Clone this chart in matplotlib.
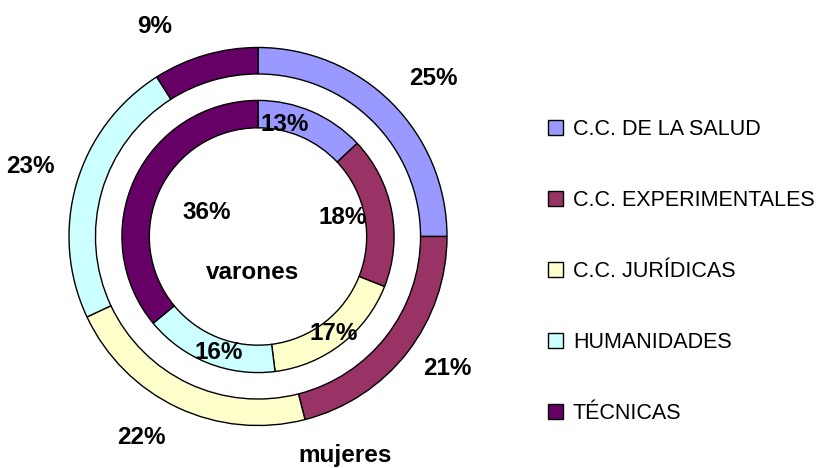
import matplotlib
matplotlib.use("Agg")
import matplotlib.pyplot as plt
import numpy as np

categories = ["C.C. DE LA SALUD", "C.C. EXPERIMENTALES", "C.C. JURÍDICAS", "HUMANIDADES", "TÉCNICAS"]
mujeres = [25, 21, 22, 23, 9]
varones = [13, 18, 17, 16, 36]
colors = ["#9999FF", "#993366", "#FFFFCC", "#CCFFFF", "#660066"]

# label placement (radius, angle offset in degrees) relative to each wedge mid-angle
outer_label_pos = [(1.25, -3), (1.22, 3), (1.23, -5), (1.26, -1), (1.24, 10)]
inner_label_pos = [(0.61, 10), (0.46, 2), (0.65, 0), (0.65, 3), (0.30, 0)]

plt.rcParams['font.family'] = ['Liberation Sans', 'DejaVu Sans']

W, H = 831, 468
fig = plt.figure(figsize=(W / 100, H / 100), dpi=100)
cx, cy, R = 258, 236.5, 189
K = 1.3 * R
ax = fig.add_axes([(cx - K) / W, (H - cy - K) / H, 2 * K / W, 2 * K / H])

wedge_kw = dict(edgecolor="black", linewidth=1.0)
w_out, _ = ax.pie(mujeres, radius=1.0, colors=colors, startangle=90, counterclock=False,
                  wedgeprops=dict(width=0.14, **wedge_kw), frame=True)
w_in, _ = ax.pie(varones, radius=0.72, colors=colors, startangle=90, counterclock=False,
                 wedgeprops=dict(width=0.145, **wedge_kw), frame=True)
ax.set_xlim(-1.3, 1.3)
ax.set_ylim(-1.3, 1.3)
ax.axis("off")

def put_labels(wedges, values, pos):
    for w, v, (r, off) in zip(wedges, values, pos):
        mid = np.deg2rad((w.theta1 + w.theta2) / 2 + off)
        ax.text(r * np.cos(mid), r * np.sin(mid), f"{v}%", ha="center", va="center",
                fontsize=17.5, fontweight="bold", color="black", clip_on=False)

put_labels(w_out, mujeres, outer_label_pos)
put_labels(w_in, varones, inner_label_pos)

ax.text(-0.03, -0.19, "varones", ha="center", va="center", fontsize=17.5, fontweight="bold", clip_on=False)
ax.text(0.46, -1.16, "mujeres", ha="center", va="center", fontsize=17.5, fontweight="bold", clip_on=False)

leg = fig.legend(w_out, categories, loc="upper left", bbox_to_anchor=(548 / W, 1 - 119 / H),
                 frameon=False, fontsize=15.5, handlelength=0.7, handleheight=0.7,
                 handletextpad=0.45, labelspacing=2.32, borderaxespad=0, borderpad=0)
for t in leg.get_texts():
    t.set_color("black")

fig.savefig("out.png", dpi=100)
